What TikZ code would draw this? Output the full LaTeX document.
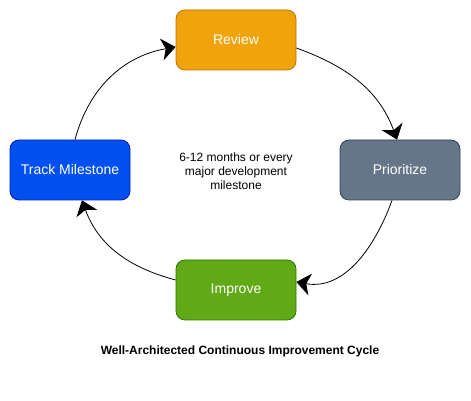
\documentclass[tikz,border=0pt]{standalone}
\usepackage{fontspec}
\setmainfont{Liberation Sans}
\usetikzlibrary{arrows.meta}
\definecolor{revfill}{HTML}{F0A30A}
\definecolor{revline}{HTML}{BD7000}
\definecolor{prifill}{HTML}{647687}
\definecolor{priline}{HTML}{314354}
\definecolor{trkfill}{HTML}{0050EF}
\definecolor{trkline}{HTML}{001DBC}
\definecolor{impfill}{HTML}{60A917}
\definecolor{impline}{HTML}{2D7600}
\tikzset{%
	stage/.style={draw, rounded corners=9pt, line width=0.8pt, minimum width=120pt, minimum height=60pt, inner sep=0pt, text=white, font=\fontsize{14}{16}\selectfont},
	arrow/.style={line width=0.8pt,-{Stealth[length=14pt,width=22pt,inset=4pt]}}}

\begin{document}
\begin{tikzpicture}[x=1pt,y=1pt]
		\useasboundingbox (0,0) rectangle (471,401);
		\node[stage, fill=revfill, draw=revline] (RV) at (236,361) {Review};
		\node[stage, fill=prifill, draw=priline] (PR) at (400,231) {Prioritize};
		\node[stage, fill=impfill, draw=impline] (IM) at (236,111) {Improve};
		\node[stage, fill=trkfill, draw=trkline] (TM) at (70,231) {Track Milestone};
		\node[align=center, font=\fontsize{12}{14}\selectfont] (NT) at (236,230) {6-12 months or every\\major development\\milestone};
		\node[font=\bfseries\fontsize{12}{14}\selectfont] (TT) at (240,50) {Well-Architected Continuous Improvement Cycle};
		
		\draw[arrow] ([yshift=-8pt]RV.east) 	to [out=-20, in=110] ([xshift=-3pt]PR.north);
		\draw[arrow] ([xshift=-8pt]PR.south) 	to [out=-110, in=-10] ([yshift=8pt]IM.east);
		\draw[arrow] ([yshift=10pt]IM.west) 	to [out=165, in=-70] ([xshift=12pt]TM.south);
		\draw[arrow] ([xshift=5pt]TM.north) 	to [out=75, in=190] ([yshift=-7pt]RV.west);
	\end{tikzpicture}
\end{document}
